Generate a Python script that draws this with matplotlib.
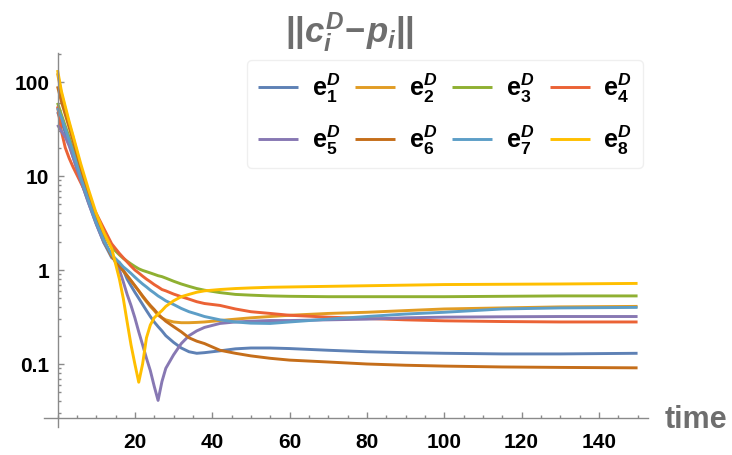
import matplotlib
matplotlib.use("Agg")
import matplotlib.pyplot as plt
from matplotlib.ticker import LogLocator, NullFormatter, FixedLocator, FixedFormatter, MultipleLocator

plt.rcParams['mathtext.fontset'] = 'custom'
plt.rcParams['mathtext.rm'] = 'Liberation Sans:bold'
plt.rcParams['mathtext.bf'] = 'Liberation Sans:bold'
plt.rcParams['mathtext.it'] = 'Liberation Sans:italic:bold'
plt.rcParams['font.family'] = ['Liberation Sans', 'DejaVu Sans']

# ---- data ----
time = [0, 1, 2, 3, 4, 6, 8, 10, 12, 14, 16, 17, 18, 19, 20, 21, 22, 23, 24, 25,
        26, 27, 28, 30, 32, 34, 36, 38, 42, 46, 50, 55, 60, 70, 80, 90, 100, 115, 130, 150]

e1 = [48, 38, 29, 22, 16, 9.0, 5.2, 3.1, 1.95, 1.35, 1.2, 1.0, 0.8, 0.68, 0.58, 0.5, 0.43, 0.37, 0.32, 0.28,
      0.25, 0.225, 0.2, 0.17, 0.148, 0.135, 0.13, 0.132, 0.138, 0.145, 0.148, 0.148, 0.146, 0.14, 0.135, 0.132, 0.13, 0.128, 0.128, 0.13]
e2 = [124, 75, 52, 36, 26, 12.5, 6.5, 3.5, 2.1, 1.4, 1.1, 0.98, 0.87, 0.77, 0.68, 0.6, 0.52, 0.46, 0.41, 0.37,
      0.33, 0.31, 0.295, 0.28, 0.275, 0.275, 0.277, 0.28, 0.29, 0.30, 0.31, 0.32, 0.33, 0.345, 0.355, 0.37, 0.385, 0.395, 0.405, 0.41]
e3 = [60, 45, 34, 26, 19.5, 10.5, 6.0, 3.6, 2.4, 1.75, 1.45, 1.33, 1.24, 1.16, 1.09, 1.03, 0.99, 0.96, 0.93, 0.9,
      0.87, 0.85, 0.82, 0.76, 0.71, 0.67, 0.635, 0.61, 0.575, 0.55, 0.54, 0.53, 0.525, 0.52, 0.52, 0.52, 0.52, 0.525, 0.53, 0.53]
e4 = [55, 30, 20, 15.5, 12.5, 8.5, 5.8, 4.0, 2.75, 1.9, 1.5, 1.35, 1.22, 1.1, 1.0, 0.93, 0.86, 0.8, 0.75, 0.7,
      0.66, 0.62, 0.6, 0.555, 0.52, 0.49, 0.46, 0.44, 0.42, 0.385, 0.36, 0.345, 0.33, 0.315, 0.305, 0.295, 0.288, 0.283, 0.28, 0.28]
e5 = [35, 30, 26, 21, 16, 9.0, 5.2, 3.1, 1.95, 1.45, 1.0, 0.75, 0.55, 0.42, 0.31, 0.22, 0.16, 0.115, 0.085, 0.058,
      0.041, 0.065, 0.09, 0.125, 0.165, 0.2, 0.225, 0.245, 0.27, 0.28, 0.285, 0.29, 0.29, 0.295, 0.30, 0.31, 0.315, 0.318, 0.32, 0.32]
e6 = [90, 62, 45, 33, 24, 12, 6.3, 3.4, 2.05, 1.4, 1.1, 0.98, 0.87, 0.77, 0.68, 0.6, 0.53, 0.47, 0.42, 0.38,
      0.34, 0.31, 0.285, 0.25, 0.22, 0.19, 0.175, 0.165, 0.14, 0.13, 0.122, 0.115, 0.11, 0.105, 0.1, 0.097, 0.095, 0.093, 0.092, 0.091]
e7 = [53, 42, 32, 24, 18, 9.6, 5.5, 3.2, 2.05, 1.45, 1.2, 1.08, 1.0, 0.92, 0.84, 0.77, 0.71, 0.66, 0.61, 0.57,
      0.53, 0.5, 0.47, 0.43, 0.39, 0.36, 0.34, 0.32, 0.295, 0.28, 0.272, 0.27, 0.28, 0.30, 0.32, 0.34, 0.355, 0.385, 0.395, 0.40]
e8 = [134, 80, 55, 38, 27, 13.5, 7.2, 4.0, 2.5, 1.7, 0.8, 0.5, 0.28, 0.16, 0.1, 0.064, 0.1, 0.19, 0.26, 0.31,
      0.34, 0.37, 0.41, 0.47, 0.52, 0.55, 0.58, 0.6, 0.62, 0.635, 0.645, 0.655, 0.66, 0.67, 0.68, 0.69, 0.70, 0.705, 0.71, 0.72]

series = [e1, e2, e3, e4, e5, e6, e7, e8]
labels = [r'$\mathbf{e}_{\mathbf{%d}}^{D}$' % i for i in range(1, 9)]
colors = ['#5E81B5', '#E19C24', '#8FB032', '#EB6235', '#8778B3', '#C56E1A', '#5D9EC7', '#FFBF00']

x_major = [20, 40, 60, 80, 100, 120, 140]
y_major = [0.1, 1, 10, 100]
y_major_labels = ['0.1', '1', '10', '100']

# ---- figure ----
W, H = 732, 455
fig = plt.figure(figsize=(W / 100, H / 100), dpi=100)
ax = fig.add_axes([44 / W, 28 / H, (648 - 44) / W, (427 - 53) / H])

lines = []
for s, c, l in zip(series, colors, labels):
    ln, = ax.plot(time, s, color=c, lw=2.1, label=l, solid_capstyle='butt', solid_joinstyle='round')
    lines.append(ln)

ax.set_yscale('log')
ax.set_xlim(-3.5, 152.7)
ax.set_ylim(10 ** (-157 / 94), 10 ** (217 / 94))

axis_col = '#8a8a8a'
for side in ['top', 'right']:
    ax.spines[side].set_visible(False)
ax.spines['left'].set_position(('data', 0))
ax.spines['bottom'].set_position(('data', 10 ** (-148 / 94)))
for side in ['left', 'bottom']:
    ax.spines[side].set_color(axis_col)
    ax.spines[side].set_linewidth(1.0)

ax.xaxis.set_major_locator(FixedLocator(x_major))
ax.xaxis.set_minor_locator(MultipleLocator(5))
ax.yaxis.set_major_locator(FixedLocator(y_major))
ax.yaxis.set_major_formatter(FixedFormatter(y_major_labels))
ax.yaxis.set_minor_locator(LogLocator(base=10, subs=range(2, 10)))
ax.yaxis.set_minor_formatter(NullFormatter())

ax.tick_params(which='both', direction='in', color=axis_col, width=1.0)
ax.tick_params(which='major', length=4.5)
ax.tick_params(which='minor', length=2.5)
ax.tick_params(axis='x', which='major', pad=11, labelsize=15)
ax.tick_params(axis='y', which='major', pad=6, labelsize=15)
for lab in ax.get_xticklabels() + ax.get_yticklabels():
    lab.set_fontweight('bold')
    lab.set_color('black')

fig.text(665 / W, 1 - 420 / H, 'time', fontsize=22, fontweight='bold', color='#6e6e6e',
         ha='left', va='center')
fig.text(349 / W, 1 - 32 / H, r'$||c_i^D\!-\!p_i||$', fontsize=25, color='#6e6e6e',
         ha='center', va='center')

# matplotlib fills legend columns first; reorder so rows read e1..e4 / e5..e8
order = [0, 4, 1, 5, 2, 6, 3, 7]
leg = ax.legend([lines[i] for i in order], [labels[i] for i in order],
                loc='center', bbox_to_anchor=(445 / W, 1 - 114 / H), bbox_transform=fig.transFigure,
                ncol=4, fontsize=18, frameon=True, fancybox=True, handlelength=1.6,
                handletextpad=0.55, columnspacing=0.6, labelspacing=0.75, borderpad=0.45)
leg.get_frame().set_edgecolor('#ececec')
leg.get_frame().set_linewidth(1.0)
for h in leg.get_lines():
    h.set_linewidth(2.1)

fig.savefig('out.png', dpi=100)
